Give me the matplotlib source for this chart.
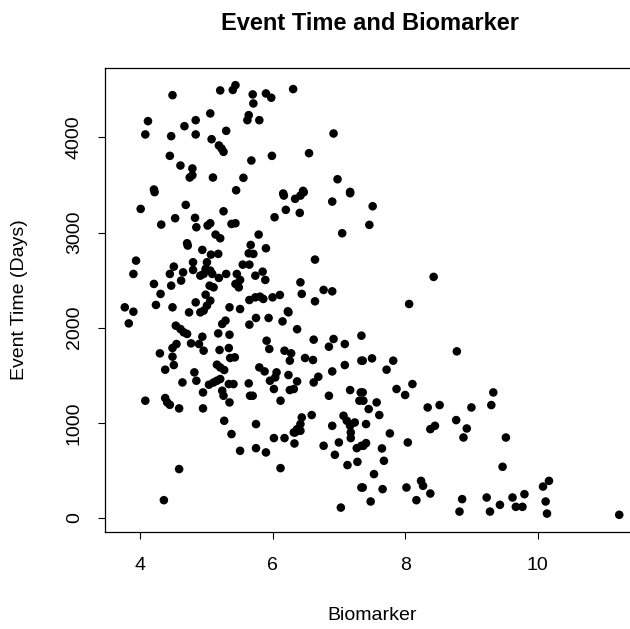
import numpy as np
import matplotlib
matplotlib.use("Agg")
from matplotlib import pyplot as plt

plt.rcParams["font.family"] = ["Liberation Sans", "DejaVu Sans"]

# biomarker level and event time (days) for each subject
biomarker = [
    4.49, 5.21, 5.40, 4.12, 4.84, 5.06, 4.67, 4.08, 4.47, 4.84, 5.30, 5.08,
    5.19, 5.23, 5.26, 4.45, 4.61, 4.79, 4.75, 4.79, 5.10, 4.21,
    5.44, 5.70, 5.71, 5.90, 5.98, 6.31, 5.64, 5.62, 5.80, 6.92, 5.68, 5.99,
    6.55, 5.56, 6.98, 5.45, 6.16, 6.46, 7.17,
    7.51, 7.46, 8.43, 8.06,
    4.22, 4.01, 4.69, 5.26, 4.53, 4.83, 4.85, 4.32, 5.02, 5.06, 5.38, 5.14,
    5.21, 4.71, 4.72, 4.94, 5.07, 5.18, 3.94, 3.90, 4.80, 5.01, 4.99, 4.96,
    5.06, 5.09, 4.51, 4.45, 4.65, 4.62, 4.80, 4.91, 5.19, 5.30, 4.21, 4.47,
    5.05, 5.11, 4.31, 4.99, 4.24, 4.49, 4.84, 3.77, 3.90, 5.06, 5.01, 4.96,
    4.91, 4.74, 5.35,
    6.17, 6.34, 6.42, 6.47, 7.17, 6.90, 6.20, 6.41, 6.03, 5.44, 7.05, 5.79,
    5.67, 5.64, 5.71, 5.90, 6.64, 5.55, 5.65, 5.85, 5.74, 5.89, 5.46, 5.51,
    5.49, 5.44, 6.42, 6.44, 6.77, 6.90, 5.65, 5.74, 5.81, 5.86, 6.00, 6.11,
    6.64, 5.51, 6.23,
    3.83, 4.54, 4.61, 4.66, 4.71, 5.24, 5.29, 5.18, 5.35, 4.94, 4.77, 4.89,
    4.55, 4.49, 4.96, 4.30, 4.49, 5.20, 5.34, 5.36, 4.51, 4.38, 5.16, 5.21,
    5.27, 4.82, 4.85, 4.64, 5.21, 5.11, 5.04, 5.16, 5.34, 5.24, 5.26, 4.95,
    4.08, 4.38, 4.41, 4.45, 4.59, 4.95, 5.35, 5.27,
    4.59, 4.36, 5.38,
    5.75, 5.65, 5.94, 6.15, 6.24, 6.37, 6.62, 6.92, 6.85, 7.09, 7.34, 5.91,
    5.95, 6.18, 6.28, 6.26, 5.43, 6.49, 6.61, 5.80, 5.88, 6.06, 6.04, 5.96,
    6.02, 6.24, 6.37, 6.32, 6.26, 6.90, 7.09, 6.69, 6.62, 7.34, 5.64, 5.41,
    5.66, 5.70, 6.12, 6.85, 7.17, 7.33, 7.31, 5.75, 6.44, 6.59, 6.42, 6.37,
    6.32, 6.90, 7.07, 7.12, 7.17, 7.24,
    5.51, 5.75, 5.90, 6.02, 6.18, 6.34, 6.42, 6.33, 6.12, 6.77, 7.00, 6.94,
    7.18, 7.18, 7.27, 7.34, 7.13, 7.28, 7.34, 7.03,
    7.36, 7.50, 7.72, 7.82, 8.78, 7.87, 8.00, 8.11, 7.36, 7.37, 7.45, 7.57,
    7.61, 7.41, 8.34, 8.52, 9.00, 9.33, 9.30, 7.77, 8.04, 8.38, 8.45, 8.77,
    8.93, 8.88, 7.37, 7.41, 7.65, 7.68, 7.53, 7.36, 7.66, 7.48, 8.02, 8.24,
    8.27, 8.17, 8.38, 8.86, 8.82, 9.23, 9.28,
    9.52, 9.47, 9.43, 9.62, 9.67, 9.77, 9.80, 10.08, 10.17, 10.12, 10.14,
    11.23,
]
event_days = [
    4445, 4495, 4500, 4172, 4182, 4253, 4119, 4032, 4014, 4032, 4070, 3982,
    3916, 3884, 3849, 3807, 3705, 3674, 3579, 3603, 3579, 3453,
    4550, 4453, 4358, 4463, 4418, 4509, 4235, 4182, 4182, 4042, 3758, 3807,
    3835, 3576, 3561, 3445, 3411, 3439, 3428,
    3277, 3081, 2534, 2249,
    3425, 3249, 3291, 3224, 3151, 3155, 3056, 3084, 3074, 3098, 3091, 2979,
    2940, 2888, 2863, 2818, 2768, 2776, 2705, 2565, 2688, 2688, 2618, 2565,
    2600, 2565, 2642, 2565, 2582, 2495, 2607, 2547, 2523, 2565, 2460, 2442,
    2442, 2424, 2355, 2347, 2239, 2214, 2266, 2214, 2168, 2284, 2232, 2179,
    2161, 2161, 2214,
    3389, 3355, 3389, 3424, 3414, 3326, 3239, 3207, 3161, 3098, 2993, 2979,
    2870, 2782, 2776, 2835, 2716, 2663, 2663, 2589, 2547, 2502, 2565, 2502,
    2424, 2460, 2477, 2355, 2397, 2382, 2291, 2319, 2326, 2302, 2319, 2344,
    2277, 2196, 2172,
    2045, 2021, 1986, 1951, 1934, 2039, 2074, 1940, 1926, 1905, 1835, 1828,
    1828, 1786, 1758, 1730, 1695, 1765, 1786, 1681, 1607, 1558, 1611, 1582,
    1555, 1530, 1442, 1424, 1460, 1424, 1400, 1442, 1407, 1337, 1284, 1319,
    1232, 1260, 1214, 1189, 1151, 1151, 1214, 1021,
    513, 186, 881,
    2102, 2032, 2102, 2066, 2161, 1984, 1874, 1881, 1800, 1828, 1916, 1863,
    1776, 1758, 1730, 1653, 1688, 1681, 1660, 1582, 1540, 1530, 1477, 1442,
    1355, 1502, 1435, 1355, 1344, 1540, 1607, 1484, 1424, 1653, 1414, 1407,
    1284, 1284, 1232, 1284, 1344, 1319, 1232, 986, 1056, 1081, 986, 933,
    898, 968, 1074, 1021, 968, 1003,
    705, 733, 688, 839, 839, 898, 916, 782, 523, 758, 793, 663,
    898, 839, 733, 758, 555, 589, 319, 108,
    1653, 1677, 1558, 1653, 1751, 1355, 1292, 1407, 1319, 1232, 1144, 1214,
    1081, 986, 1161, 1186, 1161, 1319, 1186, 888, 793, 933, 968, 1028,
    940, 845, 758, 786, 730, 600, 460, 319, 302, 172, 319, 389,
    337, 186, 256, 197, 66, 214, 66,
    845, 537, 137, 214, 116, 116, 249, 329, 389, 172, 45,
    32,
]

x = np.array(biomarker)
y = np.array(event_days)

W, H = 630, 629
fig = plt.figure(figsize=(W / 100, H / 100), dpi=100)
# plot region in pixels: left 105, right 639 (runs past the right edge), top 68, bottom 532
ax = fig.add_axes([105 / W, 1 - 532 / H, (639 - 105) / W, (532 - 68) / H])

ax.scatter(x, y, s=38, c="black", edgecolors="none")

# base-R style limits: data range padded by 4%
def padded(v):
    lo, hi = v.min(), v.max()
    d = (hi - lo) * 0.04
    return lo - d, hi + d

ax.set_xlim(*padded(x))
ax.set_ylim(*padded(y))

ax.set_xticks([4, 6, 8, 10])
ax.set_yticks([0, 1000, 2000, 3000, 4000])
ax.set_yticklabels(["0", "1000", "2000", "3000", "4000"], rotation=90, va="center")
ax.tick_params(direction="out", length=5, width=0.8, labelsize=14, colors="black")
ax.tick_params(axis="x", pad=13)
ax.tick_params(axis="y", pad=11)
for s in ax.spines.values():
    s.set_linewidth(0.9)

fig.text(372 / W, 1 - 615 / H, "Biomarker", ha="center", va="center", fontsize=14)
fig.text(20 / W, 1 - 300 / H, "Event Time (Days)", ha="center", va="center",
         rotation=90, fontsize=14)
fig.text(370 / W, 1 - 23 / H, "Event Time and Biomarker", ha="center", va="center",
         fontsize=17, fontweight="bold")

fig.savefig("out.png", dpi=100)
